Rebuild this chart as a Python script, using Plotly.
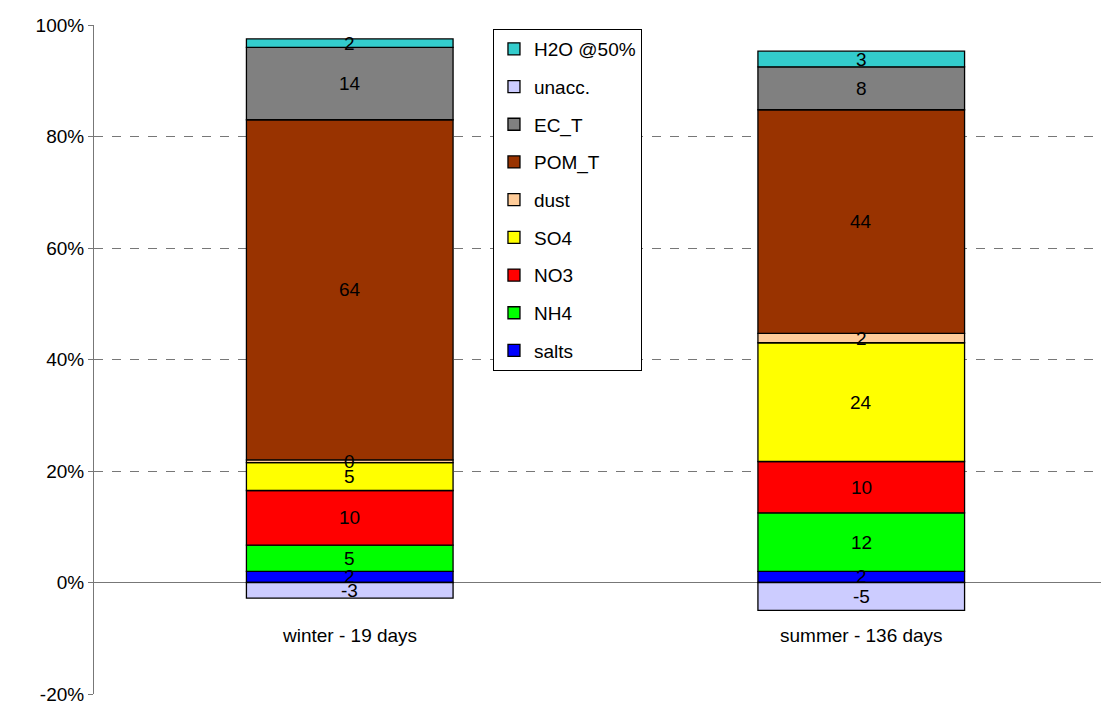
import plotly.graph_objects as go

seasons = ['winter - 19 days', 'summer - 136 days']
components = ['salts', 'NH4', 'NO3', 'SO4', 'dust', 'POM_T', 'EC_T', 'unacc.', 'H2O @50%']
colors = ['#0000FF', '#00FF00', '#FF0000', '#FFFF00', '#FFCC99', '#993300', '#808080', '#CCCCFF', '#33CCCC']

# bar heights in %
heights = {
    'salts': [2.0, 2.0],
    'NH4': [4.7, 10.5],
    'NO3': [9.8, 9.2],
    'SO4': [5.0, 21.3],
    'dust': [0.5, 1.7],
    'POM_T': [61.0, 40.1],
    'EC_T': [13.0, 7.7],
    'unacc.': [-2.8, -5.0],
    'H2O @50%': [1.5, 2.8],
}
# printed labels
labels = {
    'salts': ['2', '2'],
    'NH4': ['5', '12'],
    'NO3': ['10', '10'],
    'SO4': ['5', '24'],
    'dust': ['0', '2'],
    'POM_T': ['64', '44'],
    'EC_T': ['14', '8'],
    'unacc.': ['-3', '-5'],
    'H2O @50%': ['2', '3'],
}

fig = go.Figure()
pos_base = [0.0, 0.0]
annots = []
n = len(components)
for k, (name, col) in enumerate(zip(components, colors)):
    vals = heights[name]
    fig.add_trace(go.Bar(
        x=[0, 1], y=vals, name=name, width=0.404, legendgroup=name,
        legendrank=1000 - k,
        marker=dict(color=col, line=dict(color='black', width=1.3)),
        hoverinfo='skip',
    ))
    for i, v in enumerate(vals):
        if v < 0:
            mid = v / 2
        else:
            mid = pos_base[i] + v / 2
            pos_base[i] += v
        annots.append(dict(x=i, y=mid, text=labels[name][i], showarrow=False,
                           font=dict(size=19, color='black')))

for i, s in enumerate(seasons):
    annots.append(dict(x=i, y=-9.5, text=s, showarrow=False, font=dict(size=19, color='black')))

fig.update_layout(
    barmode='relative',
    width=1109, height=701,
    margin=dict(l=86, r=0, t=17, b=15, autoexpand=False),
    plot_bgcolor='white', paper_bgcolor='white',
    font=dict(family='Liberation Sans, Arial', size=19, color='black'),
    annotations=annots,
    showlegend=True,
    legend=dict(traceorder='grouped', x=0.39, y=0.994, xanchor='left', yanchor='top',
                bordercolor='black', borderwidth=1, bgcolor='white',
                font=dict(size=19), itemwidth=30, tracegroupgap=10),
    xaxis=dict(range=[-0.5, 1.5], showticklabels=False, showgrid=False, zeroline=False,
               showline=False, fixedrange=True),
    yaxis=dict(range=[-20, 100], tickvals=[-20, 0, 20, 40, 60, 80, 100],
               ticktext=['-20%', '0%', '20%', '40%', '60%', '80%', '100%'],
               showgrid=True, gridcolor='#777777', griddash='dash', gridwidth=1,
               zeroline=True, zerolinecolor='#777777', zerolinewidth=1.3,
               showline=True, linecolor='#777777', ticks='outside', ticklen=5,
               tickcolor='#777777', tickfont=dict(size=19)),
)
fig.write_html('out.html')
